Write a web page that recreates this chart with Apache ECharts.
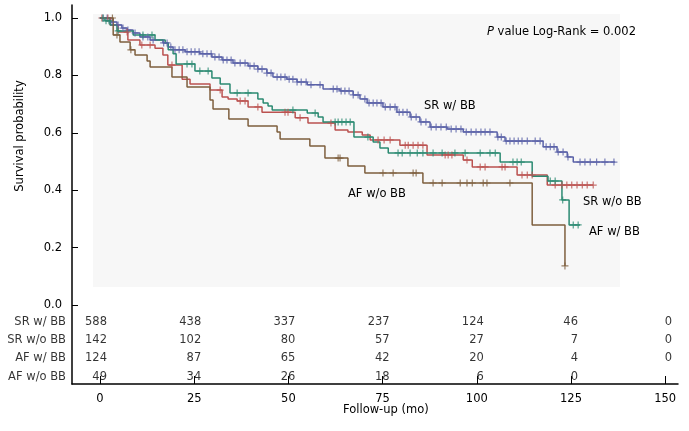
<!DOCTYPE html>
<html><head><meta charset="utf-8">
<script src="https://cdn.jsdelivr.net/npm/echarts@6/dist/echarts.min.js"></script>
<style>html,body{margin:0;padding:0;background:#fff}#c{width:689px;height:431px}</style>
</head><body><div id="c"></div>
<script>
// ---------- data ----------
const groups = ['SR w/ BB', 'SR w/o BB', 'AF w/ BB', 'AF w/o BB'];
const xTicks = [0, 25, 50, 75, 100, 125, 150];
const yTicks = [0, 0.2, 0.4, 0.6, 0.8, 1.0];

// Kaplan-Meier step points: time (mo) and survival after each drop
const srBB_t = [0, 2.7, 4.5, 5.8, 7.2, 8.8, 10.6, 13.3, 16.7, 18.1, 19.4, 22.6, 26.5, 29.7, 32.4, 35.3, 39.3, 41.9, 44.3, 45.9, 49.6, 52.3, 55.0, 59.2, 63.7, 67.2, 69.0, 70.9, 75.1, 78.8, 82.3, 84.9, 87.6, 92.1, 96.4, 105.4, 107.5, 117.6, 121.3, 124.0, 125.6, 136.7];
const srBB_s = [1.0, 0.986, 0.976, 0.965, 0.958, 0.948, 0.934, 0.923, 0.913, 0.899, 0.889, 0.882, 0.875, 0.864, 0.854, 0.843, 0.833, 0.822, 0.808, 0.794, 0.787, 0.777, 0.767, 0.753, 0.746, 0.732, 0.718, 0.704, 0.690, 0.672, 0.655, 0.638, 0.620, 0.613, 0.603, 0.585, 0.571, 0.551, 0.533, 0.516, 0.498, 0.498];
const srBB_cens = [0.8, 1.9, 3.2, 4.8, 6.1, 7.4, 9.3, 11.4, 12.7, 14.1, 16.9, 17.8, 18.8, 19.9, 21.0, 22.0, 23.1, 24.2, 25.2, 26.3, 27.3, 28.4, 29.5, 30.5, 31.6, 32.7, 33.7, 34.8, 35.8, 37.2, 38.5, 39.8, 40.9, 41.9, 43.0, 44.3, 45.4, 47.0, 48.0, 49.1, 50.2, 51.2, 52.3, 53.4, 54.7, 56.0, 58.4, 61.9, 62.9, 64.0, 65.0, 66.1, 67.2, 68.5, 70.3, 71.4, 72.5, 73.5, 74.6, 75.7, 77.0, 78.3, 79.4, 80.4, 81.5, 82.6, 83.9, 85.2, 86.5, 87.9, 89.2, 90.5, 91.9, 93.2, 94.5, 95.8, 97.2, 98.5, 99.8, 101.1, 102.2, 103.5, 105.6, 106.5, 107.8, 108.8, 109.9, 111.0, 112.0, 113.4, 115.5, 116.8, 118.4, 119.5, 120.5, 121.6, 122.9, 124.2, 127.4, 128.7, 130.1, 131.8, 134.0, 136.4];

const srNo_t = [0, 2.7, 4.8, 7.4, 10.6, 14.6, 16.7, 18.0, 21.8, 23.9, 29.2, 32.4, 34.0, 36.4, 39.3, 43.0, 51.8, 55.2, 62.4, 65.8, 69.6, 71.7, 79.6, 86.8, 96.4, 98.8, 110.7, 118.7, 130.9];
const srNo_s = [1.0, 0.976, 0.951, 0.923, 0.906, 0.895, 0.871, 0.836, 0.787, 0.770, 0.749, 0.725, 0.718, 0.711, 0.690, 0.672, 0.652, 0.634, 0.610, 0.603, 0.592, 0.575, 0.557, 0.523, 0.505, 0.481, 0.453, 0.418, 0.418];
const srNo_cens = [0.5, 2.1, 7.2, 11.1, 13.3, 19.1, 31.9, 37.2, 38.5, 41.9, 49.1, 49.9, 53.1, 61.3, 73.8, 75.4, 77.0, 81.0, 81.8, 83.1, 84.4, 85.7, 91.6, 92.4, 93.4, 97.4, 100.9, 102.2, 106.7, 107.5, 112.0, 113.4, 114.7, 120.8, 122.6, 123.9, 125.2, 126.6, 128.0, 129.3, 130.9];

const afBB_t = [0, 1.3, 2.7, 4.5, 8.8, 14.6, 17.3, 18.1, 19.4, 20.2, 25.2, 29.7, 31.9, 34.5, 41.9, 43.3, 44.6, 45.7, 55.0, 57.9, 59.2, 67.4, 72.5, 74.3, 76.5, 106.2, 114.7, 118.9, 122.6, 124.5, 127.4];
const afBB_s = [1.0, 0.990, 0.976, 0.955, 0.941, 0.923, 0.913, 0.889, 0.875, 0.840, 0.815, 0.791, 0.770, 0.739, 0.718, 0.704, 0.693, 0.679, 0.669, 0.655, 0.638, 0.585, 0.568, 0.547, 0.530, 0.498, 0.449, 0.432, 0.366, 0.279, 0.279];
const afBB_cens = [0.8, 1.6, 2.4, 4.8, 11.4, 13.8, 23.1, 24.4, 26.5, 28.7, 36.4, 39.3, 51.2, 57.1, 62.4, 63.2, 64.2, 65.3, 66.4, 71.1, 79.1, 80.2, 82.3, 84.2, 85.7, 88.4, 90.8, 94.2, 96.9, 100.9, 103.5, 104.9, 109.6, 110.7, 111.8, 119.5, 120.8, 122.8, 125.6, 126.9];

const afNo_t = [0, 3.5, 5.3, 8.0, 9.3, 12.5, 13.3, 19.1, 23.1, 29.2, 30.0, 34.2, 39.3, 47.0, 47.8, 55.7, 59.7, 65.8, 70.3, 85.7, 114.7, 123.4];
const afNo_s = [1.0, 0.941, 0.916, 0.889, 0.871, 0.850, 0.829, 0.794, 0.760, 0.714, 0.683, 0.648, 0.624, 0.603, 0.578, 0.554, 0.512, 0.484, 0.460, 0.425, 0.279, 0.136];
const afNo_cens = [3.3, 4.5, 8.2, 63.2, 63.7, 75.1, 77.8, 83.1, 83.9, 88.4, 90.8, 95.6, 97.4, 98.8, 101.7, 102.7, 108.8, 123.4];

// numbers at risk at each x tick
const risk_srBB = [588, 438, 337, 237, 124, 46, 0];
const risk_srNo = [142, 102, 80, 57, 27, 7, 0];
const risk_afBB = [124, 87, 65, 42, 20, 4, 0];
const risk_afNo = [49, 34, 26, 18, 6, 0];

const pText = 'value Log-Rank = 0.002';

// ---------- layout / style ----------
const X_MIN = -7.43, X_MAX = 153.4, Y_MIN = -0.2753, Y_MAX = 1.0453;
const ROW_Y = [-0.0592, -0.122, -0.1847, -0.2509];
const COLORS = ['#5a62a8', '#bb5250', '#2b8a72', '#7e5f3e'];
const FONT = 'DejaVu Sans';
const FS = 11.5;
const TXT = '#000';

const curves = [
  [srBB_t, srBB_s, srBB_cens],
  [srNo_t, srNo_s, srNo_cens],
  [afBB_t, afBB_s, afBB_cens],
  [afNo_t, afNo_s, afNo_cens]
];
const risks = [risk_srBB, risk_srNo, risk_afBB, risk_afNo];

function survAt(ts, ss, t) {
  let v = ss[0];
  for (let i = 0; i < ts.length; i++) { if (ts[i] <= t) v = ss[i]; else break; }
  return v;
}

const series = [];
curves.forEach((c, gi) => {
  const [ts, ss, cs] = c;
  series.push({
    type: 'line', name: groups[gi], step: 'end', showSymbol: false, silent: true,
    data: ts.map((t, i) => [t, ss[i]]),
    lineStyle: { color: COLORS[gi], width: 1.5 }, z: 3
  });
  series.push({
    type: 'scatter', silent: true, clip: false,
    symbol: 'path://M5,0L5,10M0,5L10,5', symbolSize: 7,
    data: cs.map(t => [t, survAt(ts, ss, t)]),
    itemStyle: { color: 'transparent', borderColor: COLORS[gi], borderWidth: 1.2 }, z: 4
  });
});
// risk table
risks.forEach((arr, r) => {
  series.push({
    type: 'scatter', silent: true, clip: false, symbolSize: 0,
    data: arr.map((n, i) => [xTicks[i], ROW_Y[r], n]),
    label: { show: true, position: [7, 0], align: 'right', verticalAlign: 'middle',
      formatter: p => String(p.value[2]), color: TXT, fontFamily: FONT, fontSize: FS }
  });
  series.push({
    type: 'scatter', silent: true, clip: false, symbolSize: 0,
    data: [[X_MIN, ROW_Y[r]]],
    label: { show: true, position: [-6, 0], align: 'right', verticalAlign: 'middle',
      formatter: () => groups[r], color: TXT, fontFamily: FONT, fontSize: FS }
  });
});

const txt = (x, y, text) => ({
  type: 'text', x, y, silent: true,
  style: { text, fill: TXT, font: FS + 'px "' + FONT + '"', verticalAlign: 'middle' }
});

const chart = echarts.init(document.getElementById('c'), null, { renderer: 'canvas' });
chart.setOption({
  animation: false,
  backgroundColor: '#fff',
  grid: { left: 72, top: 5, width: 606, height: 379, containLabel: false },
  xAxis: {
    type: 'value', min: X_MIN, max: X_MAX,
    axisLine: { show: true, onZero: false, lineStyle: { color: '#000', width: 1.5 } },
    axisTick: { show: true, inside: true, length: 8, customValues: xTicks, lineStyle: { color: '#000' } },
    axisLabel: { customValues: xTicks, margin: 9, color: TXT, fontFamily: FONT, fontSize: FS },
    splitLine: { show: false }
  },
  yAxis: {
    type: 'value', min: Y_MIN, max: Y_MAX,
    axisLine: { show: true, onZero: false, lineStyle: { color: '#000', width: 1.5 } },
    axisTick: { show: true, inside: true, length: 6, customValues: yTicks, lineStyle: { color: '#000' } },
    axisLabel: { customValues: yTicks, margin: 10, formatter: v => v.toFixed(1), color: TXT, fontFamily: FONT, fontSize: FS },
    splitLine: { show: false }
  },
  graphic: { elements: [
    { type: 'rect', silent: true, z: -10, shape: { x: 93, y: 14, width: 527, height: 273 }, style: { fill: '#f7f7f7' } },
    { type: 'text', x: 487, y: 32, silent: true, style: { text: '{i|P} ' + pText, fill: TXT, font: FS + 'px "' + FONT + '"', verticalAlign: 'middle',
        rich: { i: { fontStyle: 'italic', fontFamily: FONT, fontSize: FS, fill: TXT } } } },
    txt(424, 106, groups[0]),
    txt(583, 202, groups[1]),
    txt(589, 232, groups[2]),
    txt(348, 194, groups[3]),
    txt(343, 410, 'Follow-up (mo)'),
    { type: 'text', x: 20, y: 136, rotation: Math.PI / 2, silent: true,
      style: { text: 'Survival probability', fill: TXT, font: FS + 'px "' + FONT + '"', align: 'center', verticalAlign: 'middle' } }
  ] },
  series
});
</script>
</body></html>
